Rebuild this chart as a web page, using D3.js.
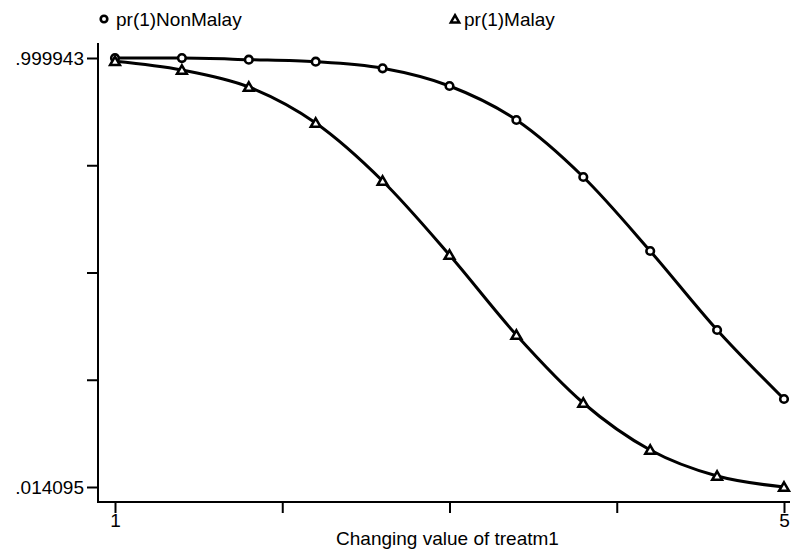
<!DOCTYPE html>
<html>
<head>
<meta charset="utf-8">
<script src="https://cdn.jsdelivr.net/npm/d3@7"></script>
<style>
  html, body { margin: 0; padding: 0; background: #fff; }
  svg { display: block; font-family: "Liberation Sans", Arial, Helvetica, sans-serif; }
</style>
</head>
<body>
<svg id="chart" width="793" height="550"></svg>
<script>
// ---- data ----
const xValues = [1, 1.4, 1.8, 2.2, 2.6, 3.0, 3.4, 3.8, 4.2, 4.6, 5.0];
const nonMalay = [0.999943, 0.9997, 0.9962, 0.9914, 0.9763, 0.9356, 0.8575, 0.7265, 0.5564, 0.3749, 0.2163];
const malay    = [0.9925, 0.9724, 0.9333, 0.8505, 0.7173, 0.5472, 0.3634, 0.2071, 0.0991, 0.0393, 0.014095];
const seriesNames = ["pr(1)NonMalay", "pr(1)Malay"];
const yMin = 0.014095, yMax = 0.999943;
const yTickLabels = [".014095", "", "", "", ".999943"];
const xTickValues = [1, 2, 3, 4, 5];
const xTickLabels = ["1", "", "", "", "5"];
const xTitle = "Changing value of treatm1";

// ---- layout ----
const svg = d3.select("#chart");
const axisX = 98, axisY = 502, axisTop = 43, axisRight = 790;
const x = d3.scaleLinear().domain([1, 5]).range([115, 784]);
const y = d3.scaleLinear().domain([yMin, yMax]).range([487, 58]);
const yTickValues = d3.range(5).map(i => yMin + i * (yMax - yMin) / 4);
const fontSize = 19;

// axis lines
svg.append("line").attr("x1", axisX).attr("x2", axisX).attr("y1", axisTop).attr("y2", axisY + 1)
  .attr("stroke", "#000").attr("stroke-width", 2);
svg.append("line").attr("x1", axisX - 1).attr("x2", axisRight).attr("y1", axisY).attr("y2", axisY)
  .attr("stroke", "#000").attr("stroke-width", 2);

// y axis
const yAxis = d3.axisLeft(y).tickValues(yTickValues).tickSize(11).tickPadding(3)
  .tickFormat((d, i) => yTickLabels[i]);
const gy = svg.append("g").attr("transform", `translate(${axisX},0)`).call(yAxis);
gy.select(".domain").remove();
gy.selectAll(".tick line").attr("stroke", "#000").attr("stroke-width", 2);
gy.selectAll(".tick text").attr("font-size", fontSize).attr("fill", "#000")
  .attr("font-family", "Liberation Sans, Arial, sans-serif");

// x axis
const xAxis = d3.axisBottom(x).tickValues(xTickValues).tickSize(11).tickPadding(1)
  .tickFormat((d, i) => xTickLabels[i]);
const gx = svg.append("g").attr("transform", `translate(0,${axisY})`).call(xAxis);
gx.select(".domain").remove();
gx.selectAll(".tick line").attr("stroke", "#000").attr("stroke-width", 2);
gx.selectAll(".tick text").attr("font-size", fontSize).attr("fill", "#000")
  .attr("font-family", "Liberation Sans, Arial, sans-serif");

// x title
svg.append("text").attr("x", (x(1) + x(5)) / 2 - 2).attr("y", 545)
  .attr("text-anchor", "middle").attr("font-size", fontSize).text(xTitle);

// lines
const line = d3.line().x((d, i) => x(xValues[i])).y(d => y(d)).curve(d3.curveMonotoneX);
[nonMalay, malay].forEach(s => {
  svg.append("path").datum(s).attr("d", line).attr("fill", "none")
    .attr("stroke", "#000").attr("stroke-width", 3);
});

// markers
const tri = d3.symbol().type(d3.symbolTriangle).size(42);
svg.append("g").selectAll("circle").data(nonMalay).join("circle")
  .attr("cx", (d, i) => x(xValues[i])).attr("cy", d => y(d)).attr("r", 3.8)
  .attr("fill", "#fff").attr("stroke", "#000").attr("stroke-width", 2.6);
svg.append("g").selectAll("path").data(malay).join("path")
  .attr("d", tri).attr("transform", (d, i) => `translate(${x(xValues[i])},${y(d) + 1})`)
  .attr("fill", "#fff").attr("stroke", "#000").attr("stroke-width", 2.5);

// legend
const lg = svg.append("g");
lg.append("circle").attr("cx", 104).attr("cy", 19).attr("r", 3.3)
  .attr("fill", "#fff").attr("stroke", "#000").attr("stroke-width", 2.6);
lg.append("text").attr("x", 116).attr("y", 26).attr("font-size", fontSize).text(seriesNames[0]);
lg.append("path").attr("d", d3.symbol().type(d3.symbolTriangle).size(30))
  .attr("transform", "translate(455,20)")
  .attr("fill", "#fff").attr("stroke", "#000").attr("stroke-width", 2.5);
lg.append("text").attr("x", 464).attr("y", 26).attr("font-size", fontSize).text(seriesNames[1]);
</script>
</body>
</html>
